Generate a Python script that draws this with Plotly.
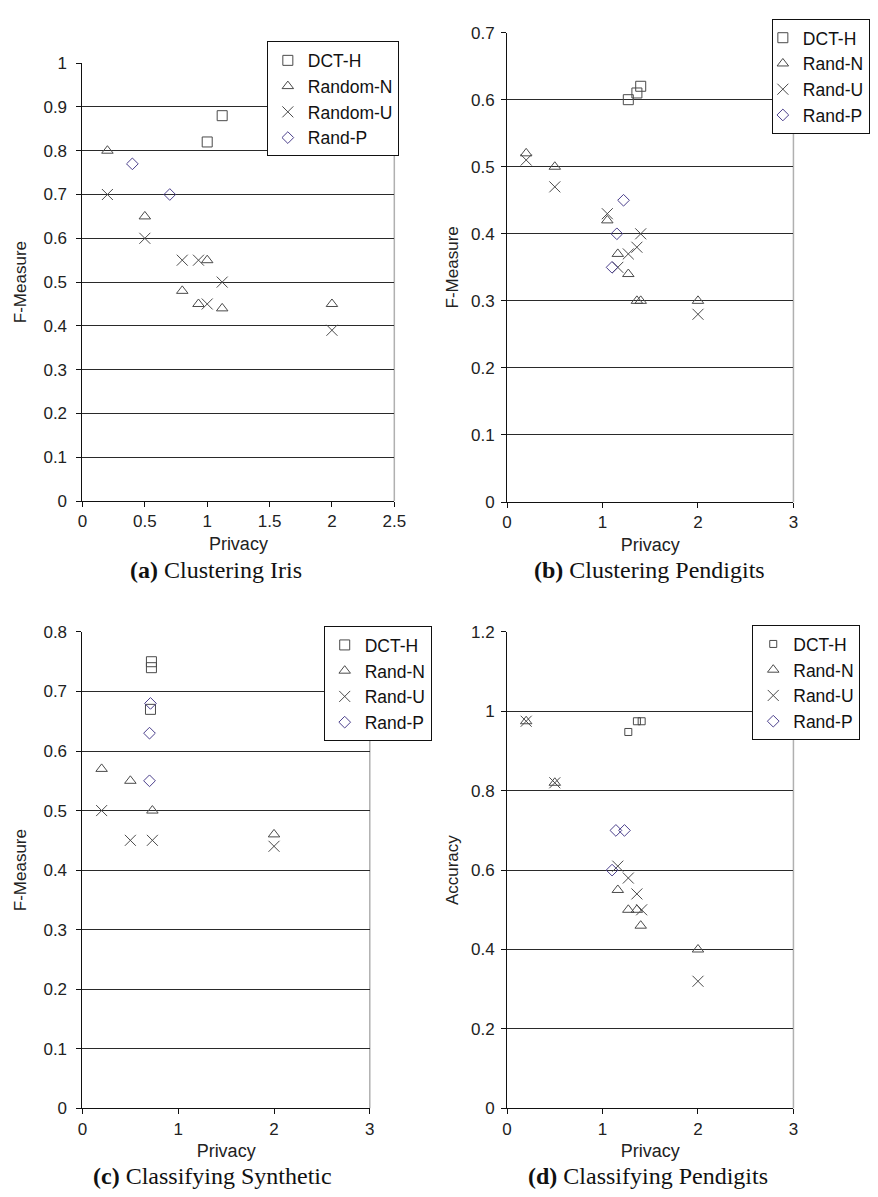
import plotly.graph_objects as go

# ---------------- data ----------------
# (a) Clustering Iris
a_dct_x = [1.0, 1.12]
a_dct_y = [0.82, 0.88]
a_n_x = [0.2, 0.5, 0.8, 0.93, 1.0, 1.12, 2.0]
a_n_y = [0.80, 0.65, 0.48, 0.45, 0.55, 0.44, 0.45]
a_u_x = [0.2, 0.5, 0.8, 0.93, 1.0, 1.12, 2.0]
a_u_y = [0.70, 0.60, 0.55, 0.55, 0.45, 0.50, 0.39]
a_p_x = [0.4, 0.7]
a_p_y = [0.77, 0.70]

# (b) Clustering Pendigits
b_dct_x = [1.27, 1.36, 1.40]
b_dct_y = [0.60, 0.61, 0.62]
b_n_x = [0.2, 0.5, 1.05, 1.16, 1.27, 1.36, 1.40, 2.0]
b_n_y = [0.52, 0.50, 0.42, 0.37, 0.34, 0.30, 0.30, 0.30]
b_u_x = [0.2, 0.5, 1.05, 1.16, 1.27, 1.36, 1.40, 2.0]
b_u_y = [0.51, 0.47, 0.43, 0.35, 0.37, 0.38, 0.40, 0.28]
b_p_x = [1.22, 1.15, 1.10]
b_p_y = [0.45, 0.40, 0.35]

# (c) Classifying Synthetic
c_dct_x = [0.72, 0.72, 0.71]
c_dct_y = [0.75, 0.74, 0.67]
c_n_x = [0.2, 0.5, 0.73, 2.0]
c_n_y = [0.57, 0.55, 0.50, 0.46]
c_u_x = [0.2, 0.5, 0.73, 2.0]
c_u_y = [0.50, 0.45, 0.45, 0.44]
c_p_x = [0.71, 0.70, 0.70]
c_p_y = [0.68, 0.63, 0.55]

# (d) Classifying Pendigits
d_dct_x = [1.27, 1.36, 1.41]
d_dct_y = [0.948, 0.975, 0.975]
d_n_x = [0.2, 0.5, 1.16, 1.27, 1.36, 1.40, 2.0]
d_n_y = [0.975, 0.82, 0.55, 0.50, 0.50, 0.46, 0.40]
d_u_x = [0.2, 0.5, 1.16, 1.27, 1.36, 1.41, 2.0]
d_u_y = [0.975, 0.82, 0.61, 0.58, 0.54, 0.50, 0.32]
d_p_x = [1.14, 1.23, 1.10]
d_p_y = [0.70, 0.70, 0.60]

captions = ["<b>(a)</b> Clustering Iris", "<b>(b)</b> Clustering Pendigits",
            "<b>(c)</b> Classifying Synthetic", "<b>(d)</b> Classifying Pendigits"]
names_a = ["DCT-H", "Random-N", "Random-U", "Rand-P"]
names_o = ["DCT-H", "Rand-N", "Rand-U", "Rand-P"]
y_titles = ["F-Measure", "F-Measure", "F-Measure", "Accuracy"]
y_max = [1.0, 0.7, 0.8, 1.2]
y_dtick = [0.1, 0.1, 0.1, 0.2]
x_max = [2.5, 3, 3, 3]
x_dtick = [0.5, 1, 1, 1]

# ---------------- styling ----------------
W, H = 878, 1197
GRAY = "#4a4a4a"
BLUE = "#4b3f8c"
SANS = "Liberation Sans, Arial, sans-serif"
SERIF = "Liberation Serif, Times New Roman, serif"

def px_x(p):
    return p / W

def px_y(p):
    return 1 - p / H

panels = [
    dict(xd=(79, 397), yd=(55, 500), cap=(215, 570), tls=6, tst=12),
    dict(xd=(512, 804), yd=(24, 501), cap=(657, 570), tls=3, tst=8),
    dict(xd=(79, 372), yd=(633, 1117), cap=(212, 1186), tls=6, tst=12),
    dict(xd=(512, 804), yd=(633, 1117), cap=(656, 1186), tls=3, tst=8),
]

data = [
    [(a_dct_x, a_dct_y), (a_n_x, a_n_y), (a_u_x, a_u_y), (a_p_x, a_p_y)],
    [(b_dct_x, b_dct_y), (b_n_x, b_n_y), (b_u_x, b_u_y), (b_p_x, b_p_y)],
    [(c_dct_x, c_dct_y), (c_n_x, c_n_y), (c_u_x, c_u_y), (c_p_x, c_p_y)],
    [(d_dct_x, d_dct_y), (d_n_x, d_n_y), (d_u_x, d_u_y), (d_p_x, d_p_y)],
]
symbols = ["square-open", "triangle-up-open", "x-thin-open", "diamond-open"]
colors = [GRAY, GRAY, GRAY, BLUE]
sizes = [
    [10, 10, 11, 9],
    [10, 10, 11, 9],
    [10, 10, 11, 9],
    [7, 10, 11, 9],
]

fig = go.Figure()
for i in range(4):
    sfx = "" if i == 0 else str(i + 1)
    names = names_a if i == 0 else names_o
    leg = "legend" if i == 0 else "legend" + str(i + 1)
    for j in range(4):
        xs, ys = data[i][j]
        fig.add_trace(go.Scatter(
            x=xs, y=ys, mode="markers", name=names[j],
            xaxis="x" + sfx, yaxis="y" + sfx, legend=leg,
            marker=dict(symbol=symbols[j], size=sizes[i][j], color=colors[j],
                        line=dict(color=colors[j], width=1)),
        ))

layout = dict(
    width=W, height=H, margin=dict(l=0, r=0, t=0, b=0),
    paper_bgcolor="white", plot_bgcolor="white", showlegend=True,
    font=dict(family=SANS, size=17, color="#222"),
)

shapes = []
annotations = []
for i in range(4):
    sfx = "" if i == 0 else str(i + 1)
    p = panels[i]
    xa = dict(
        domain=[px_x(p["xd"][0]), px_x(p["xd"][1])],
        range=[0, x_max[i]], dtick=x_dtick[i], tick0=0,
        showgrid=False, zeroline=False, showline=True, linecolor="#111", linewidth=1,
        ticks="outside", ticklen=5, tickcolor="#111",
        tickfont=dict(family=SANS, size=17, color="#222"),
        title=dict(text="Privacy", font=dict(family=SANS, size=18, color="#222"), standoff=6),
        anchor="y" + sfx, fixedrange=True,
    )
    ya = dict(
        domain=[px_y(p["yd"][1]), px_y(p["yd"][0])],
        range=[0, y_max[i]], dtick=y_dtick[i], tick0=0,
        showgrid=True, gridcolor="#2a2a2a", gridwidth=1.2,
        zeroline=False, showline=True, linecolor="#111", linewidth=1,
        ticks="outside", ticklen=5, tickcolor="#111", ticklabelstandoff=p["tls"],
        tickfont=dict(family=SANS, size=17, color="#222"),
        title=dict(text=y_titles[i], font=dict(family=SANS, size=17, color="#222"),
                   standoff=p["tst"]),
        anchor="x" + sfx, fixedrange=True,
    )
    layout["xaxis" + sfx] = xa
    layout["yaxis" + sfx] = ya
    shapes.append(dict(type="line", xref=f"x{sfx} domain", yref=f"y{sfx} domain",
                       x0=1, x1=1, y0=0, y1=1, line=dict(color="#b0b0b0", width=1.5),
                       layer="below"))
    annotations.append(dict(text=captions[i], x=px_x(p["cap"][0]), y=px_y(p["cap"][1]),
                            xref="paper", yref="paper",
                            showarrow=False, xanchor="center", yanchor="middle",
                            font=dict(family=SERIF, size=24, color="#111")))

leg_common = dict(bgcolor="white", bordercolor="#111", borderwidth=1,
                  font=dict(family=SANS, size=17.5, color="#111"),
                  traceorder="normal", itemsizing="trace", yanchor="top",
                  xanchor="left")
layout["legend"] = dict(leg_common, x=px_x(267), y=px_y(33))
layout["legend2"] = dict(leg_common, x=px_x(782), y=px_y(10), indentation=-10)
layout["legend3"] = dict(leg_common, x=px_x(325), y=px_y(627))
layout["legend4"] = dict(leg_common, x=px_x(762), y=px_y(626))
layout["shapes"] = shapes
layout["annotations"] = annotations

fig.update_layout(**layout)
fig.write_html("out.html")
